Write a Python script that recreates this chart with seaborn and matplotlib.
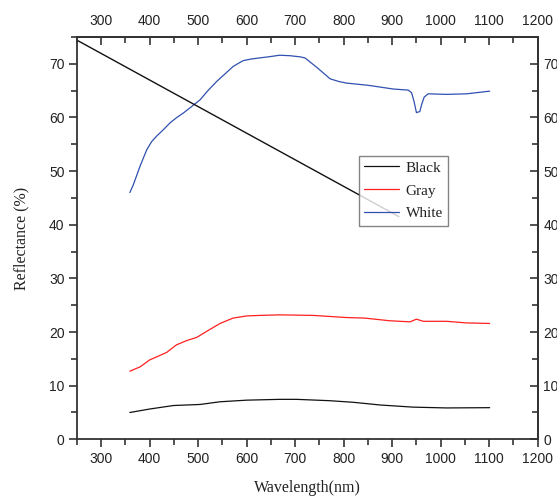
import matplotlib
matplotlib.use("Agg")
import matplotlib.pyplot as plt
import seaborn as sns
import pandas as pd
import numpy as np

# ---- data ----
white_x = [359, 366, 380, 394, 404, 414, 428, 442, 456, 469, 486, 504, 520, 538, 555, 572, 585, 593, 610, 627, 645, 668, 690, 710, 720, 745, 772, 790, 806, 850, 902, 933, 940, 945, 950, 957, 961, 966, 974, 1012, 1053, 1101]
white_y = [46.0, 47.4, 50.9, 54.0, 55.5, 56.5, 57.7, 59.0, 60.0, 60.8, 62.0, 63.3, 65.0, 66.7, 68.1, 69.5, 70.2, 70.6, 70.9, 71.1, 71.3, 71.6, 71.5, 71.3, 71.1, 69.3, 67.2, 66.7, 66.4, 66.0, 65.3, 65.1, 64.6, 63.0, 60.9, 61.1, 62.5, 63.8, 64.4, 64.3, 64.4, 64.9]

gray_x = [359, 380, 400, 435, 455, 476, 497, 517, 545, 572, 600, 627, 668, 737, 806, 843, 895, 937, 950, 964, 1012, 1053, 1101]
gray_y = [12.7, 13.5, 14.8, 16.2, 17.6, 18.4, 19.0, 20.1, 21.6, 22.6, 23.0, 23.1, 23.2, 23.1, 22.7, 22.6, 22.1, 21.9, 22.4, 22.0, 22.0, 21.7, 21.6]

black_x = [359, 400, 449, 504, 545, 600, 668, 703, 771, 820, 875, 943, 1012, 1101]
black_y = [5.0, 5.65, 6.3, 6.5, 7.0, 7.3, 7.45, 7.45, 7.2, 6.9, 6.4, 6.0, 5.85, 5.9]

# stray straight line in the original figure
stray_x = [250, 914]
stray_y = [74.4, 41.5]

series_names = ["Black", "Gray", "White"]
series_colors = ["#111111", "#ff2020", "#3050b0"]

x_major = list(range(300, 1201, 100))
y_major = list(range(0, 71, 10))

df = pd.concat([
    pd.DataFrame({"Wavelength": black_x, "Reflectance": black_y, "Sample": "Black"}),
    pd.DataFrame({"Wavelength": gray_x, "Reflectance": gray_y, "Sample": "Gray"}),
    pd.DataFrame({"Wavelength": white_x, "Reflectance": white_y, "Sample": "White"}),
])

sns.set_style("ticks")
plt.rcParams["font.family"] = ["Liberation Sans", "DejaVu Sans"]

fig = plt.figure(figsize=(5.57, 4.99), dpi=100)
ax = fig.add_axes([0.1382, 0.1196, 0.8271, 0.8063])

sns.lineplot(data=df, x="Wavelength", y="Reflectance", hue="Sample",
             hue_order=series_names, palette=series_colors, ax=ax,
             linewidth=0.9, estimator=None, sort=False)

ax.plot(stray_x, stray_y, color="#111111", linewidth=1.0)

ax.set_xlim(250, 1200)
ax.set_ylim(0, 75)

spine_col = "#333333"
for s in ax.spines.values():
    s.set_color(spine_col)
    s.set_linewidth(1.3)
    s.set_visible(True)

ax.set_xticks(x_major)
ax.set_xticks(list(range(250, 1201, 50)), minor=True)
ax.set_yticks(y_major)
ax.set_yticks(list(range(0, 76, 5)), minor=True)
ax.tick_params(axis="both", which="major", direction="out", length=6, width=1.2,
               color=spine_col, labelcolor="#222222", labelsize=10, pad=3)
ax.tick_params(axis="both", which="minor", direction="out", length=4, width=1.2, color=spine_col)

secx = ax.secondary_xaxis("top")
secx.set_xticks(x_major)
secx.set_xticks(list(range(250, 1201, 50)), minor=True)
secx.tick_params(which="major", direction="in", length=6, width=1.2, color=spine_col,
                 labelcolor="#222222", labelsize=10, pad=6.5)
secx.tick_params(which="minor", direction="in", length=4, width=1.2, color=spine_col)
secx.spines["top"].set_color(spine_col)
secx.spines["top"].set_linewidth(1.3)

secy = ax.secondary_yaxis("right")
secy.set_yticks(y_major)
secy.set_yticks(list(range(0, 76, 5)), minor=True)
secy.tick_params(which="major", direction="in", length=6, width=1.2, color=spine_col,
                 labelcolor="#222222", labelsize=10, pad=4)
secy.tick_params(which="minor", direction="in", length=4, width=1.2, color=spine_col)
secy.spines["right"].set_color(spine_col)
secy.spines["right"].set_linewidth(1.3)

ax.set_xlabel("Wavelength(nm)", family="Liberation Serif", fontsize=11.5, color="#222222", labelpad=10)
ax.set_ylabel("Reflectance (%)", family="Liberation Serif", fontsize=11.5, color="#222222", labelpad=14)

leg = ax.legend(loc="upper left", bbox_to_anchor=(0.612, 0.705), frameon=True, fancybox=False,
                edgecolor="#666666", prop={"family": "Liberation Serif", "size": 11},
                handlelength=2.3, handletextpad=0.4, labelspacing=0.6, borderpad=0.35,
                borderaxespad=0.0, title=None)
leg.get_frame().set_linewidth(1.0)
for t in leg.get_texts():
    t.set_color("#222222")

fig.savefig("out.png", dpi=100)
